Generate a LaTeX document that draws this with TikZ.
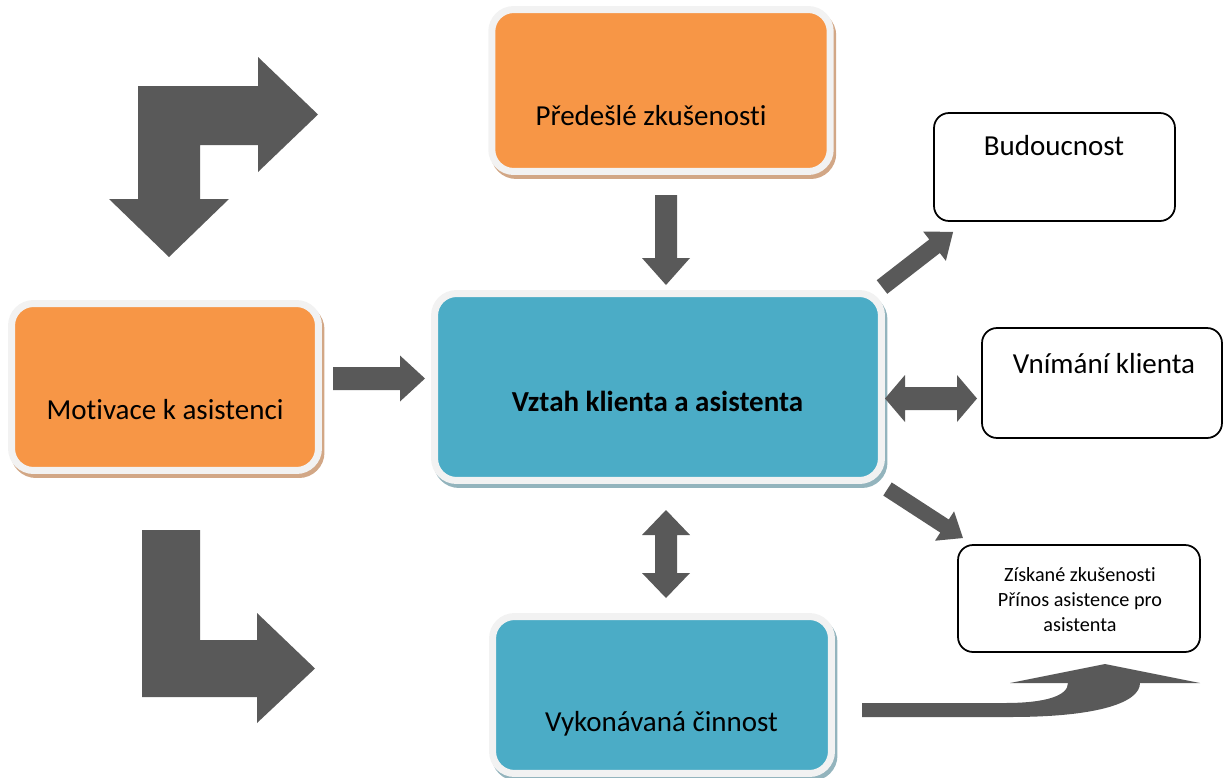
\documentclass[tikz,border=0pt]{standalone}
\usepackage{fontspec}
\setmainfont{Carlito}[Ligatures={NoCommon}]
\begin{document}
\begin{tikzpicture}[x=0.02cm,y=-0.02cm]
\definecolor{orangefill}{HTML}{F79646}
\definecolor{bluefill}{HTML}{4BACC6}
\definecolor{framegray}{HTML}{F2F2F2}
\definecolor{orangeshadow}{HTML}{D2A786}
\definecolor{blueshadow}{HTML}{93B4BD}
\definecolor{arrowgray}{HTML}{595959}
\tikzset{
  panel/.style 2 args={draw=framegray, fill=#1, line width=0.14cm,
    rounded corners=0.44cm, inner sep=0pt,
    preaction={draw=#2, fill=#2, line width=0.14cm,
      transform canvas={shift={(0.05cm,-0.08cm)}}}},
  outcome/.style={draw=black, line width=1pt, fill=white,
    rounded corners=0.3cm, inner sep=0pt},
  txt/.style={font=\fontsize{16.5}{20}\selectfont, inner sep=0pt, anchor=base},
  smalltxt/.style={font=\fontsize{11.5}{14.2}\selectfont, inner sep=0pt, align=center},
  pics/blockarrow/.style n args={4}{code={
    \fill[arrowgray] (0,-#2) -- ({#1-#4},-#2) -- ({#1-#4},-#3) -- (#1,0)
      -- ({#1-#4},#3) -- ({#1-#4},#2) -- (0,#2) -- cycle;}},
  pics/dblarrow/.style n args={4}{code={
    \fill[arrowgray] (0,0) -- (#4,-#3) -- (#4,-#2) -- ({#1-#4},-#2) -- ({#1-#4},-#3)
      -- (#1,0) -- ({#1-#4},#3) -- ({#1-#4},#2) -- (#4,#2) -- (#4,#3) -- cycle;}}
}
\useasboundingbox (0,0) rectangle (1225,778);

% framed panels
\node[panel={orangefill}{orangeshadow}, minimum width=6.77cm, minimum height=3.24cm]
  (past) at (661,90.5) {};
\node[panel={orangefill}{orangeshadow}, minimum width=6.14cm, minimum height=3.34cm]
  (motiv) at (165,387) {};
\node[panel={bluefill}{blueshadow}, minimum width=8.94cm, minimum height=3.74cm]
  (rel) at (658,387) {};
\node[panel={bluefill}{blueshadow}, minimum width=6.78cm, minimum height=3.14cm]
  (work) at (662,695) {};

\node[txt] (pastT) at (651,125) {Předešlé zkušenosti};
\node[txt] (motivT) at (165,419) {Motivace k asistenci};
\node[txt, font=\fontsize{16.5}{20}\selectfont\bfseries] (relT) at (657.5,411) {Vztah klienta a asistenta};
\node[txt] (workT) at (661.5,731) {Vykonávaná činnost};

% outcome boxes
\node[outcome, minimum width=4.82cm, minimum height=2.16cm] (future) at (1054.5,167) {};
\node[outcome, minimum width=4.8cm, minimum height=2.2cm] (percep) at (1102,383) {};
\node[outcome, minimum width=4.84cm, minimum height=2.14cm] (gain) at (1079,598.5) {};

\node[txt] (futureT) at (1054,155) {Budoucnost};
\node[txt] (percepT) at (1104,373) {Vnímání klienta};
\node[smalltxt] (gainT) at (1080,600) {Získané zkušenosti\\Přínos asistence pro\\asistenta};

% block arrows
\pic[rotate=-90] at (666,195) {blockarrow={90}{11}{24}{27}};
\pic at (333,378.5) {blockarrow={92}{11.5}{23}{25}};
\pic at (885,398.5) {dblarrow={92}{11.5}{23.5}{20}};
\pic[rotate=-90] at (666,510) {dblarrow={88}{11}{24}{25}};
\pic[rotate=37.8] at (882,287) {blockarrow={90}{8.6}{18.5}{23.5}};
\pic[rotate=-33] at (887.5,489) {blockarrow={90}{7.8}{17.5}{22}};

% bent arrows on the left
\fill[arrowgray] (138,86) -- (258,86) -- (258,57) -- (318,114.5) -- (258,172)
  -- (258,145) -- (200,145) -- (200,199) -- (229,199) -- (169,257) -- (109,199)
  -- (138,199) -- cycle;
\fill[arrowgray] (142,530) -- (200,530) -- (200,640) -- (257,640) -- (257,613)
  -- (315,668.5) -- (257,723) -- (257,697) -- (142,697) -- cycle;

% curved arrow at the bottom
\fill[arrowgray] (862,703) -- (1005,703) .. controls (1045,703) and (1068,696) .. (1068,683)
  -- (1010,683) -- (1105,664) -- (1200,683) -- (1140,683)
  .. controls (1140,702) and (1100,717) .. (1010,717) -- (862,717) -- cycle;
\end{tikzpicture}
\end{document}
